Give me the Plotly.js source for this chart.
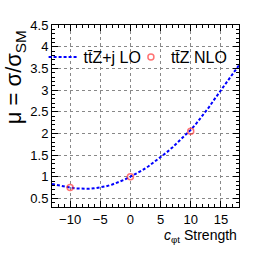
<!DOCTYPE html>
<html>
<head>
<meta charset="utf-8">
<script src="https://cdn.plot.ly/plotly-3.0.1.min.js"></script>
<style>html,body{margin:0;padding:0;background:#fff;}#plot{width:266px;height:259px;}</style>
</head>
<body>
<div id="plot"></div>
<script>
// Curve: ttZ+j LO
const loX  = [-13, -12, -11, -10, -9, -8, -7, -6, -5, -4, -3, -2, -1, 0, 1, 2, 3, 4, 5, 6, 7, 8, 9, 10, 11, 12, 13, 14, 15, 16, 17, 18];
const loMu = [0.83, 0.80, 0.77, 0.75, 0.73, 0.72, 0.72, 0.73, 0.75, 0.78, 0.82, 0.87, 0.93, 1.00, 1.07, 1.15, 1.24, 1.34, 1.45, 1.56, 1.68, 1.81, 1.94, 2.08, 2.24, 2.41, 2.60, 2.80, 3.00, 3.19, 3.38, 3.57];
// Points: ttZ NLO
const nloX  = [-10, 0, 10];
const nloMu = [0.75, 1.00, 2.05];

const xTickVals = [-10, -5, 0, 5, 10, 15];
const yTickVals = [0.5, 1, 1.5, 2, 2.5, 3, 3.5, 4, 4.5];

const FONT = 'Liberation Sans, Arial, sans-serif';

const data = [
  {x: loX, y: loMu, type: 'scatter', mode: 'lines', name: 'tt\u0304Z+j LO', legend: 'legend',
   line: {color: '#0000ff', width: 2, dash: '3px,2px'}},
  {x: nloX, y: nloMu, type: 'scatter', mode: 'markers', name: 'tt\u0304Z NLO', legend: 'legend2',
   marker: {symbol: 'circle-open', size: 6, color: 'rgba(255,40,40,0.65)', line: {width: 1.5}}}
];

const axisCommon = {
  showline: true, linecolor: '#000', linewidth: 1, mirror: 'ticks',
  ticks: 'inside', ticklen: 6, tickcolor: '#000', tickwidth: 1,
  showgrid: true, gridcolor: '#888', gridwidth: 1, griddash: 'dot',
  zeroline: false, tickfont: {family: FONT, size: 13, color: '#000'}
};

const legendCommon = {
  yanchor: 'middle', y: 0.824, xanchor: 'left',
  bgcolor: 'rgba(0,0,0,0)', borderwidth: 0,
  font: {family: FONT, size: 16, color: '#000'}, itemwidth: 30
};

const layout = {
  width: 266, height: 259,
  margin: {l: 52, r: 27, t: 25, b: 52},
  paper_bgcolor: '#fff', plot_bgcolor: '#fff',
  showlegend: true,
  font: {family: FONT, color: '#000'},
  xaxis: Object.assign({}, axisCommon, {
    range: [-13, 18], tickmode: 'array', tickvals: xTickVals,
    minor: {dtick: 1, ticks: 'inside', ticklen: 3, tickcolor: '#000', showgrid: false}
  }),
  yaxis: Object.assign({}, axisCommon, {
    range: [0.3, 4.5], tickmode: 'array', tickvals: yTickVals,
    minor: {dtick: 0.1, ticks: 'inside', ticklen: 3, tickcolor: '#000', showgrid: false}
  }),
  legend: Object.assign({}, legendCommon, {x: -0.045}),
  legend2: Object.assign({}, legendCommon, {x: 0.422}),
  shapes: [
    {type: 'rect', xref: 'paper', yref: 'paper', x0: 0, x1: 1, y0: 0.715, y1: 0.954,
     fillcolor: '#fff', line: {width: 0}, layer: 'between'}
  ],
  annotations: [
    {text: '\u03bc = \u03c3/\u03c3<sub>SM</sub>', xref: 'paper', yref: 'paper',
     x: -0.2, y: 0.711, xanchor: 'center', yanchor: 'middle', textangle: -90, showarrow: false,
     font: {family: FONT, size: 22, color: '#000'}},
    {text: '<i>c</i><sub>\u03c6t</sub> Strength', xref: 'paper', yref: 'paper',
     x: 1, y: -0.158, xanchor: 'right', yanchor: 'middle', showarrow: false,
     font: {family: FONT, size: 14, color: '#000'}}
  ]
};

Plotly.newPlot('plot', data, layout, {displayModeBar: false, staticPlot: true});
</script>
</body>
</html>
